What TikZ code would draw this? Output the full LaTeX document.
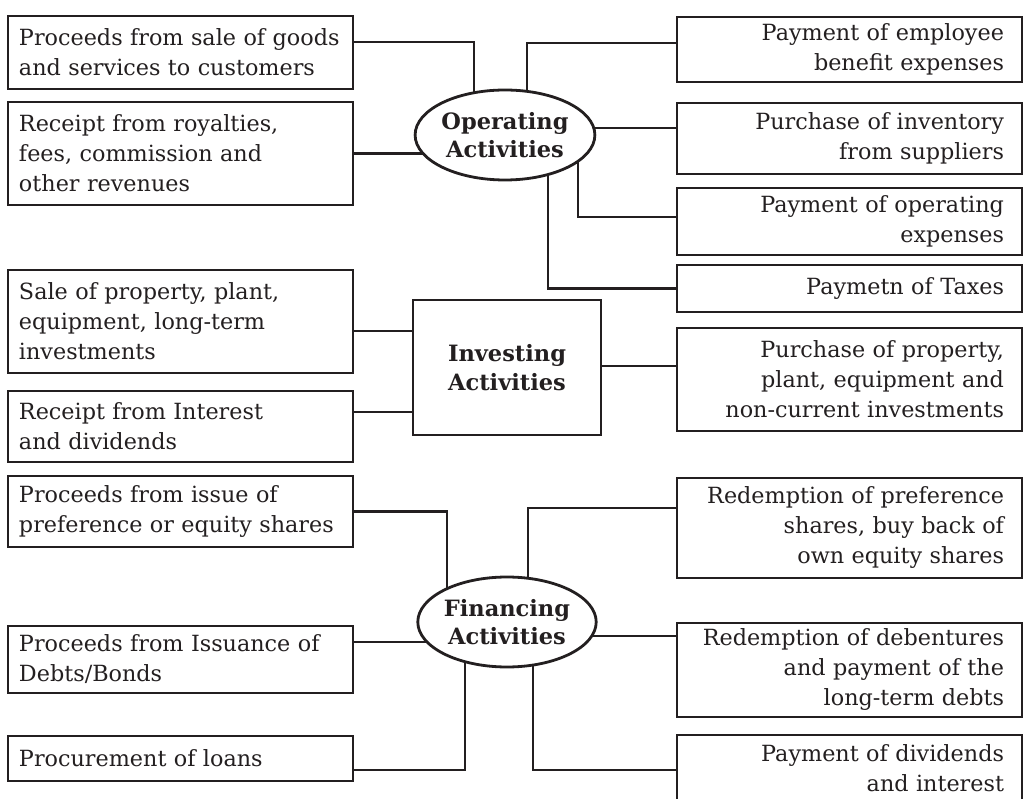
\documentclass[tikz,border=0pt]{standalone}
\usepackage{fontspec}
\setmainfont{DejaVu Serif}
\usetikzlibrary{shapes.geometric,backgrounds}
\definecolor{ink}{HTML}{231F20}
\newcommand{\itemfont}{\fontsize{22.3}{30}\selectfont}
\newcommand{\hubfont}{\fontsize{22.5}{28.5}\selectfont\bfseries}
\tikzset{
  lbox/.style={draw=ink,line width=2.8pt,fill=white,minimum width=345pt,text width=323pt,inner xsep=11pt,inner ysep=2pt,align=left,font=\itemfont,text=ink},
  rbox/.style={draw=ink,line width=2.8pt,fill=white,minimum width=345pt,text width=309pt,inner xsep=18pt,inner ysep=2pt,align=right,font=\itemfont,text=ink},
  hub/.style={draw=ink,ellipse,line width=2.8pt,fill=white,minimum width=178pt,minimum height=90pt,inner sep=0pt,align=center,font=\hubfont,text=ink},
  hubbox/.style={draw=ink,line width=2.8pt,fill=white,minimum width=188pt,minimum height=135pt,inner sep=0pt,align=center,font=\hubfont,text=ink},
  link/.style={line width=2.8pt,draw=ink}
}
\begin{document}
\begin{tikzpicture}[x=1pt,y=-1pt]
  \useasboundingbox (0,0) rectangle (1031,799);
  % operating
  \node[hub] (op) at (505,135) {Operating\\Activities};
  \node[lbox,minimum height=73pt] (l1) at (180.5,52.5) {Proceeds from sale of goods\\and services to customers};
  \node[lbox,minimum height=103pt] (l2) at (180.5,153.5) {Receipt from royalties,\\fees, commission and\\other revenues};
  \node[rbox,minimum height=65pt] (r1) at (849.5,49.5) {Payment of employee\\benefit expenses};
  \node[rbox,minimum height=71pt] (r2) at (849.5,138.5) {Purchase of inventory\\from suppliers};
  \node[rbox,minimum height=67pt] (r3) at (849.5,221.5) {Payment of operating\\expenses};
  \node[rbox,minimum height=47pt] (r4) at (849.5,288.5) {Paymetn of Taxes};
  % investing
  \node[hubbox] (inv) at (507,367.5) {Investing\\Activities};
  \node[lbox,minimum height=103pt] (l3) at (180.5,321.5) {Sale of property, plant,\\equipment, long-term\\investments};
  \node[lbox,minimum height=71pt] (l4) at (180.5,426.5) {Receipt from Interest\\and dividends};
  \node[rbox,minimum height=103pt] (r5) at (849.5,379.5) {Purchase of property,\\plant, equipment and\\non-current investments};
  % financing
  \node[hub] (fin) at (507,622) {Financing\\Activities};
  \node[lbox,minimum height=71pt] (l5) at (180.5,511.5) {Proceeds from issue of\\preference or equity shares};
  \node[lbox,minimum height=67pt] (l6) at (180.5,659.5) {Proceeds from Issuance of\\Debts/Bonds};
  \node[lbox,minimum height=45pt] (l7) at (180.5,758.5) {Procurement of loans};
  \node[rbox,minimum height=100pt] (r6) at (849.5,528) {Redemption of preference\\shares, buy back of\\own equity shares};
  \node[rbox,minimum height=94pt] (r7) at (849.5,670) {Redemption of debentures\\and payment of the\\long-term debts};
  \node[rbox,minimum height=66pt] (r8) at (849.5,768) {Payment of dividends\\and interest};
  \begin{scope}[on background layer]
    \draw[link] ([yshift=10.5pt]l1.east) -| ([xshift=-31pt]op.center);
    \draw[link] (l2.east) -| (op.center);
    \draw[link] ([yshift=6.5pt]r1.west) -| ([xshift=22pt]op.center);
    \draw[link] ([yshift=10.5pt]r2.west) -| (op.center);
    \draw[link] ([yshift=4.5pt]r3.west) -| ([xshift=73pt]op.center);
    \draw[link] (r4.west) -| ([xshift=43pt]op.center);
    \draw[link] ([yshift=-9.5pt]l3.east) -- ([yshift=36.5pt]inv.west);
    \draw[link] ([yshift=14.5pt]l4.east) -- ([yshift=-44.5pt]inv.west);
    \draw[link] ([yshift=13.5pt]r5.west) -- ([yshift=1.5pt]inv.east);
    \draw[link] (l5.east) -| ([xshift=-60pt]fin.center);
    \draw[link] ([yshift=17.5pt]l6.east) -| (fin.center);
    \draw[link] ([yshift=-11.5pt]l7.east) -| ([xshift=-42pt]fin.center);
    \draw[link] ([yshift=20pt]r6.west) -| ([xshift=21pt]fin.center);
    \draw[link] ([yshift=34pt]r7.west) -| (fin.center);
    \draw[link] ([yshift=-2pt]r8.west) -| ([xshift=26pt]fin.center);
  \end{scope}
\end{tikzpicture}
\end{document}
